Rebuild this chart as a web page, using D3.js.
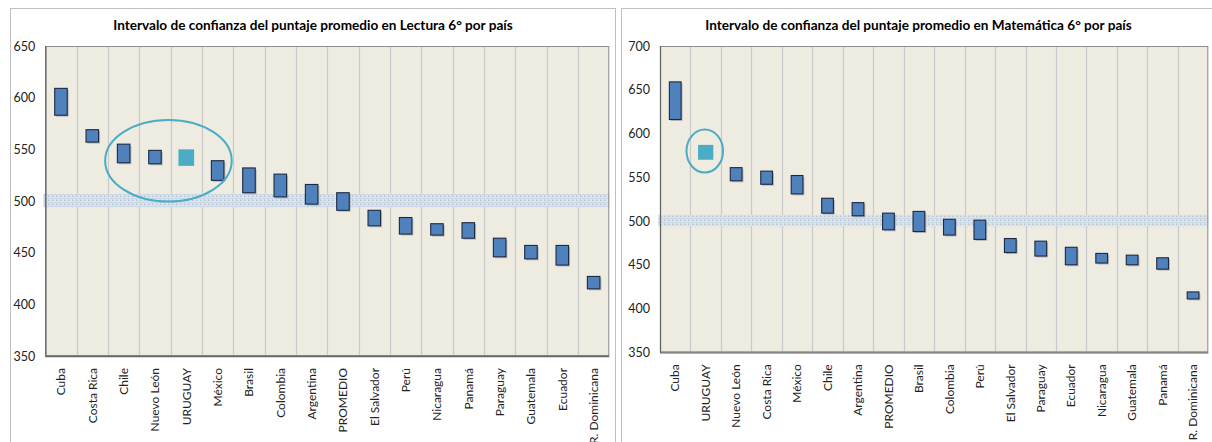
<!DOCTYPE html>
<html><head><meta charset="utf-8">
<script src="https://cdn.jsdelivr.net/npm/d3@7"></script>
<style>body{margin:0;background:#fff}svg{display:block}</style>
</head><body>
<svg id="chart" width="1212" height="442"></svg>
<script>
// ---- Data ----
const lecturaCountries = ["Cuba","Costa Rica","Chile","Nuevo León","URUGUAY","México","Brasil","Colombia","Argentina","PROMEDIO","El Salvador","Perú","Nicaragua","Panamá","Paraguay","Guatemala","Ecuador","R. Dominicana"];
const lecturaLow  = [583,557,537,536,534,520,508,504,497,491,476,468,467,464,446,444,438,415];
const lecturaHigh = [609,569,555,549,550,539,532,526,516,508,491,484,478,479,464,457,457,427];
const lecturaTicks = [350,400,450,500,550,600,650];

const mateCountries = ["Cuba","URUGUAY","Nuevo León","Costa Rica","México","Chile","Argentina","PROMEDIO","Brasil","Colombia","Perú","El Salvador","Paraguay","Ecuador","Nicaragua","Guatemala","Panamá","R. Dominicana"];
const mateLow  = [616,570,546,542,531,509,506,490,488,484,479,464,460,450,452,450,445,411];
const mateHigh = [659,587,561,557,552,526,521,509,511,502,501,480,477,470,463,461,458,419];
const mateTicks = [350,400,450,500,550,600,650,700];

const bandRange = [494,507];
const highlight = "URUGUAY";

const svg = d3.select("#chart");
const defs = svg.append("defs");
const pat = defs.append("pattern").attr("id","hatch").attr("patternUnits","userSpaceOnUse")
  .attr("width",4).attr("height",4);
pat.append("rect").attr("width",4).attr("height",4).attr("fill","#DDE3E8");
pat.append("rect").attr("width",2).attr("height",1).attr("fill","#BCCCDC");
pat.append("rect").attr("x",0).attr("y",2).attr("width",1).attr("height",2).attr("fill","#C3D2E0");
pat.append("rect").attr("x",2).attr("y",2).attr("width",2).attr("height",1).attr("fill","#CAD6E2");

const FONT = "Lato, 'Open Sans', sans-serif";

function drawChart(cfg){
  const g = svg.append("g");
  // outer box
  g.append("rect").attr("x",cfg.box[0]+0.5).attr("y",cfg.box[1]+0.5)
    .attr("width",cfg.box[2]).attr("height",cfg.box[3])
    .attr("fill","#fff").attr("stroke","#BFBFBF").attr("stroke-width",1);
  g.append("text").attr("x",cfg.titleX).attr("y",30).attr("text-anchor","middle")
    .attr("font-family",FONT).attr("font-weight","bold")
    .attr("font-size","13.6px").attr("fill","#000").text(cfg.title);

  const x = d3.scaleBand().domain(cfg.cats).range([cfg.left,cfg.right]).paddingInner(0).paddingOuter(0);
  const y = d3.scaleLinear().domain([cfg.ticks[0],cfg.ticks[cfg.ticks.length-1]]).range([cfg.bottom,cfg.top]);

  // plot background
  g.append("rect").attr("x",cfg.left).attr("y",cfg.top).attr("width",cfg.right-cfg.left)
    .attr("height",cfg.bottom-cfg.top).attr("fill","#EEEBE0");
  // vertical gridlines at category boundaries
  g.append("g").selectAll("line").data(cfg.cats.slice(1)).join("line")
    .attr("x1",d=>Math.round(x(d))+0.5).attr("x2",d=>Math.round(x(d))+0.5)
    .attr("y1",cfg.top).attr("y2",cfg.bottom).attr("stroke","#CACACA").attr("stroke-width",1.2);
  // band
  g.append("rect").attr("x",cfg.left-2).attr("width",cfg.right-cfg.left+2)
    .attr("y",y(bandRange[1])).attr("height",y(bandRange[0])-y(bandRange[1]))
    .attr("fill","url(#hatch)");
  // plot border
  g.append("rect").attr("x",cfg.left+0.5).attr("y",cfg.top+0.5).attr("width",cfg.right-cfg.left-1)
    .attr("height",cfg.bottom-cfg.top-1).attr("fill","none").attr("stroke","#8C8C8C").attr("stroke-width",1);
  g.append("line").attr("x1",cfg.left+0.5).attr("x2",cfg.left+0.5).attr("y1",cfg.top).attr("y2",cfg.bottom+0.5)
    .attr("stroke","#666").attr("stroke-width",1.3);
  g.append("line").attr("x1",cfg.left).attr("x2",cfg.right).attr("y1",cfg.bottom+0.5).attr("y2",cfg.bottom+0.5)
    .attr("stroke","#666").attr("stroke-width",1.3);

  // y axis
  const yAxis = d3.axisLeft(y).tickValues(cfg.ticks).tickSize(0).tickPadding(10);
  const ya = g.append("g").attr("transform",`translate(${cfg.left},0)`).call(yAxis);
  ya.select(".domain").remove();
  ya.selectAll("text").attr("font-family",FONT).attr("font-size","12.5px").attr("fill","#222");

  // x axis
  const xAxis = d3.axisBottom(x).tickSize(0).tickPadding(0);
  const xa = g.append("g").attr("transform",`translate(0,${cfg.bottom})`).call(xAxis);
  xa.select(".domain").remove();
  xa.selectAll("text").attr("font-family",FONT).attr("font-size","12px").attr("fill","#222")
    .attr("text-anchor","end").attr("dy","0.35em")
    .attr("transform","translate(0,12) rotate(-90)").attr("x",0).attr("y",0);

  const bw = x.bandwidth()*cfg.barFrac;
  const hw = x.bandwidth()*0.5;
  const rows = cfg.cats.map((c,i)=>({c, lo:cfg.low[i], hi:cfg.high[i], w:c===highlight?hw:bw}));
  // shadows
  g.append("g").selectAll("rect").data(rows.filter(d=>d.c!==highlight)).join("rect")
    .attr("x",d=>x(d.c)+x.bandwidth()/2-d.w/2+1.5).attr("y",d=>y(d.hi)+1.5)
    .attr("width",d=>d.w).attr("height",d=>y(d.lo)-y(d.hi))
    .attr("fill","#9A9A9A").attr("opacity",0.6);
  g.append("g").selectAll("rect").data(rows).join("rect")
    .attr("x",d=>x(d.c)+x.bandwidth()/2-d.w/2).attr("y",d=>y(d.hi))
    .attr("width",d=>d.w).attr("height",d=>y(d.lo)-y(d.hi))
    .attr("fill",d=>d.c===highlight?"#4BACC6":"#4F81BD")
    .attr("stroke",d=>d.c===highlight?"none":"#1B2A44").attr("stroke-width",1.1);

  // ellipse
  const e = cfg.ellipse;
  g.append("ellipse").attr("cx",cfg.left+e.cat*x.bandwidth()).attr("cy",y(e.val))
    .attr("rx",e.rcat*x.bandwidth()).attr("ry",y(e.val-e.rval)-y(e.val))
    .attr("fill","none").attr("stroke","#4BACC6").attr("stroke-width",2);
}

drawChart({
  box:[10,8,605,440], titleX:313,
  title:"Intervalo de confianza del puntaje promedio en Lectura 6° por país",
  cats:lecturaCountries, low:lecturaLow, high:lecturaHigh, ticks:lecturaTicks,
  left:45.3, right:609.3, top:46, bottom:356, barFrac:0.4,
  ellipse:{cat:3.93, val:539, rcat:2.02, rval:39.5}
});
drawChart({
  box:[621,8,600,440], titleX:918.5,
  title:"Intervalo de confianza del puntaje promedio en Matemática 6° por país",
  cats:mateCountries, low:mateLow, high:mateHigh, ticks:mateTicks,
  left:660, right:1208.3, top:46, bottom:352.3, barFrac:0.385,
  ellipse:{cat:1.47, val:580, rcat:0.6, rval:24.6}
});
</script>
</body></html>
